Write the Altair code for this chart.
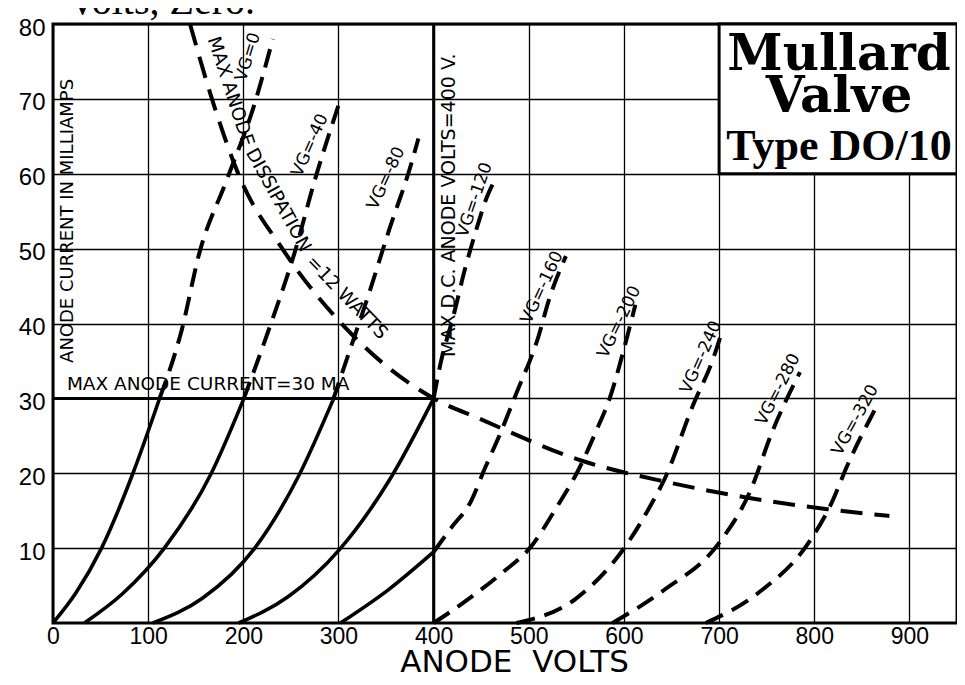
import altair as alt
import pandas as pd

# ---------------- values ----------------
# anode volts (V) and anode current (mA) for each grid bias
vg_names = ["VG=0", "VG=-40", "VG=-80", "VG=-120", "VG=-160",
            "VG=-200", "VG=-240", "VG=-280", "VG=-320"]

vg0_volts = [0, 24, 51, 84, 112, 135, 154, 182, 211, 231]
vg0_ma = [0, 4, 10, 20, 30, 39, 49.5, 59, 69, 78]

vg40_volts = [33, 73, 117, 166, 200, 226, 254, 275, 301]
vg40_ma = [0, 3.9, 10, 19.9, 29.8, 38.9, 49.5, 59.1, 69.5]

vg80_volts = [105, 157, 212, 258, 294, 310, 332, 354, 375, 384]
vg80_ma = [0, 3.3, 10, 19.6, 29.7, 35.7, 44, 52.8, 60.7, 64.7]

vg120_volts = [195, 247, 301, 355, 400, 407, 421, 433, 445, 456, 464]
vg120_ma = [0, 3.5, 9.8, 19.4, 30, 34.5, 41.1, 47.3, 52.6, 56.9, 59.1]

vg160_volts = [302, 353, 400, 419, 439, 454, 469, 487, 510, 521, 539]
vg160_ma = [0, 4.5, 9.5, 12.8, 16.2, 20.7, 25, 30.7, 38.2, 43.1, 49]

vg200_volts = [400, 420, 444, 473, 501, 530, 552, 571, 585, 600, 612]
vg200_ma = [0, 1.7, 3.9, 6.8, 10, 15.6, 20.4, 25.7, 30, 36.6, 42.5]

vg240_volts = [487, 549, 603, 628, 643, 672, 694, 702]
vg240_ma = [0, 3.2, 10.5, 15.7, 19.3, 28.9, 35.4, 38.5]

vg280_volts = [588, 641, 700, 733, 756, 785]
vg280_ma = [0, 4.3, 10.7, 17.7, 25.6, 33.5]

vg320_volts = [686, 741, 795, 817, 836, 865]
vg320_ma = [0, 4, 10.9, 15.7, 21.4, 28.8]

# maximum anode dissipation (12 W) curve
diss_volts = [144, 168, 196, 242, 316, 400, 448, 555, 646, 727, 814, 879]
diss_ma = [80, 69.6, 59.6, 49.8, 38.3, 30, 27.3, 21.7, 18.8, 16.8, 15.2, 14.3]

MAX_CURRENT_MA = 30
MAX_ANODE_V = 400

x_ticks = [0, 100, 200, 300, 400, 500, 600, 700, 800, 900]
y_ticks = [10, 20, 30, 40, 50, 60, 70, 80]
X_MAX = 950
Y_MAX = 80

# ---------------- annotation placement (data coordinates) ----------------
vg_label_pos = [(205, 75.6, 287), (270, 63.8, 294), (350, 59.4, 295),
                (443, 56.5, 289), (514, 44.8, 295), (595, 40.2, 296),
                (681, 35.5, 294), (762, 31.2, 297), (843, 27.1, 299)]
diss_text = ["MAX ANODE", "DISSIPATION", "=12 WATTS"]
diss_text_pos = [(187, 71.0, 72), (237, 56.5, 61), (309, 43.5, 46)]
box_extent = (700, 950, 60, 80)
box_lines = ["Mullard", "Valve", "Type DO/10"]
box_line_y = [73.9, 68.2, 61.9]
BOX_X = 826

# ---------------- build tables ----------------
curves_v = [vg0_volts, vg40_volts, vg80_volts, vg120_volts, vg160_volts,
            vg200_volts, vg240_volts, vg280_volts, vg320_volts]
curves_i = [vg0_ma, vg40_ma, vg80_ma, vg120_ma, vg160_ma,
            vg200_ma, vg240_ma, vg280_ma, vg320_ma]

solid_rows, dashed_rows = [], []
for name, vs, cs in zip(vg_names, curves_v, curves_i):
    pts = list(zip(vs, cs))
    k = max((j for j, (v, c) in enumerate(pts)
             if v <= MAX_ANODE_V and c <= MAX_CURRENT_MA + 0.01), default=-1)
    if k >= 1:
        for j in range(k + 1):
            solid_rows.append({"curve": name, "V": pts[j][0], "I": pts[j][1], "o": j})
    start = k if k >= 1 else 0
    for j in range(start, len(pts)):
        dashed_rows.append({"curve": name, "V": pts[j][0], "I": pts[j][1], "o": j})

solid_df = pd.DataFrame(solid_rows)
dashed_df = pd.DataFrame(dashed_rows)
diss_df = pd.DataFrame({"V": diss_volts, "I": diss_ma, "o": list(range(len(diss_volts)))})

hrule_df = pd.DataFrame({"V": [0], "V2": [MAX_ANODE_V], "I": [MAX_CURRENT_MA]})
vrule_df = pd.DataFrame({"V": [MAX_ANODE_V], "I": [0], "I2": [Y_MAX]})
box_df = pd.DataFrame({"V": [box_extent[0]], "V2": [box_extent[1]],
                       "I": [box_extent[2]], "I2": [box_extent[3]]})

vg_lab_df = pd.DataFrame({"label": vg_names,
                          "V": [p[0] for p in vg_label_pos],
                          "I": [p[1] for p in vg_label_pos],
                          "angle": [p[2] for p in vg_label_pos]})
diss_lab_df = pd.DataFrame({"label": diss_text,
                            "V": [p[0] for p in diss_text_pos],
                            "I": [p[1] for p in diss_text_pos],
                            "angle": [p[2] for p in diss_text_pos]})

# ---------------- scales / axes ----------------
W, H = 904, 599
PAD = {"left": 45, "top": 16, "right": 0, "bottom": 54}
xscale = alt.Scale(domain=[0, X_MAX], nice=False, zero=True)
yscale = alt.Scale(domain=[0, Y_MAX], nice=False, zero=True)

xaxis = alt.Axis(values=x_ticks, grid=True, gridColor="black", gridWidth=1.3,
                 gridOpacity=1, domain=False, ticks=False, tickSize=0,
                 labelFont="Liberation Sans", labelFontSize=23, labelColor="black",
                 labelPadding=2, labelFlush=False, labelOverlap=False,
                 titleFont="DejaVu Sans", titleFontSize=31, titleFontWeight="normal",
                 titleColor="black", titleX=461, titleY=48,
                 titleBaseline="alphabetic", titleAlign="center")
yaxis = alt.Axis(values=y_ticks, grid=True, gridColor="black", gridWidth=1.3,
                 gridOpacity=1, domain=False, ticks=False, tickSize=0,
                 labelFont="Liberation Sans", labelFontSize=24, labelColor="black",
                 labelPadding=8, labelOffset=4, labelOverlap=False, labelFlush=False)

XTITLE = "ANODE\u00a0\u00a0VOLTS"


def X(field="V"):
    return alt.X(f"{field}:Q", scale=xscale, axis=xaxis, title=XTITLE)


def Y(field="I"):
    return alt.Y(f"{field}:Q", scale=yscale, axis=yaxis, title=None)


# ---------------- layers ----------------
box = alt.Chart(box_df).mark_rect(fill="white", stroke="black", strokeWidth=3).encode(
    x=X(), x2="V2:Q", y=Y(), y2="I2:Q")

solid = alt.Chart(solid_df).mark_line(color="black", strokeWidth=3.6,
                                      interpolate="monotone").encode(
    x=X(), y=Y(), detail="curve:N", order="o:Q")

dashed = alt.Chart(dashed_df).mark_line(color="black", strokeWidth=4,
                                        strokeDash=[19, 10], interpolate="monotone").encode(
    x=X(), y=Y(), detail="curve:N", order="o:Q")

diss = alt.Chart(diss_df).mark_line(color="black", strokeWidth=4,
                                    strokeDash=[22, 12], interpolate="monotone").encode(
    x=X(), y=Y(), order="o:Q")

hrule = alt.Chart(hrule_df).mark_rule(color="black", strokeWidth=3).encode(
    x=X(), x2="V2:Q", y=Y())
vrule = alt.Chart(vrule_df).mark_rule(color="black", strokeWidth=3).encode(
    x=X(), y=Y(), y2="I2:Q")

vg_text = alt.Chart(vg_lab_df).mark_text(font="DejaVu Sans", fontSize=17, color="black",
                                         align="center", baseline="middle").encode(
    x=X(), y=Y(), text="label:N", angle=alt.Angle("angle:Q", scale=None))

diss_label = alt.Chart(diss_lab_df).mark_text(font="DejaVu Sans", fontSize=18.5,
                                              color="black", align="center",
                                              baseline="middle").encode(
    x=X(), y=Y(), text="label:N", angle=alt.Angle("angle:Q", scale=None))

cur_text = alt.Chart(pd.DataFrame({"V": [14.6], "I": [31.1],
                                   "t": ["MAX ANODE CURRENT=30 MA"]})).mark_text(
    font="DejaVu Sans", fontSize=18.5, color="black", align="left",
    baseline="alphabetic").encode(x=X(), y=Y(), text="t:N")

volt_text = alt.Chart(pd.DataFrame({"V": [416], "I": [55.8],
                                    "t": ["MAX.D.C. ANODE VOLTS=400 V."]})).mark_text(
    font="DejaVu Sans", fontSize=19, color="black", align="center",
    baseline="middle", angle=270).encode(x=X(), y=Y(), text="t:N")

ytitle_text = alt.Chart(pd.DataFrame({"V": [15.5], "I": [53.7],
                                      "t": ["ANODE CURRENT IN MILLIAMPS"]})).mark_text(
    font="DejaVu Sans", fontSize=18, color="black", align="center",
    baseline="middle", angle=270).encode(x=X(), y=Y(), text="t:N")

box_df_text = pd.DataFrame({"V": [BOX_X] * 3, "I": box_line_y, "t": box_lines})
mullard = alt.Chart(box_df_text.iloc[:2]).mark_text(
    font="DejaVu Serif", fontSize=50, fontWeight="bold", color="black",
    align="center", baseline="alphabetic").encode(x=X(), y=Y(), text="t:N")
typeline = alt.Chart(box_df_text.iloc[2:]).mark_text(
    font="Liberation Serif", fontSize=44, fontWeight="bold", color="black",
    align="center", baseline="alphabetic").encode(x=X(), y=Y(), text="t:N")

caption = alt.Chart(pd.DataFrame({"t": ["Volts, Zero."]})).mark_text(
    font="Liberation Serif", fontSize=40, color="black", align="left",
    baseline="alphabetic").encode(x=alt.value(15), y=alt.value(-10), text="t:N")

chart = alt.layer(
    box, solid, dashed, diss, hrule, vrule,
    vg_text, diss_label, cur_text, volt_text, ytitle_text, mullard, typeline, caption
).properties(
    width=W, height=H,
    autosize=alt.AutoSizeParams(type="none"),
    padding=PAD,
    background="white",
).configure_view(stroke="black", strokeWidth=3)

chart.save("out.html", embed_options={"renderer": "svg", "actions": False})
